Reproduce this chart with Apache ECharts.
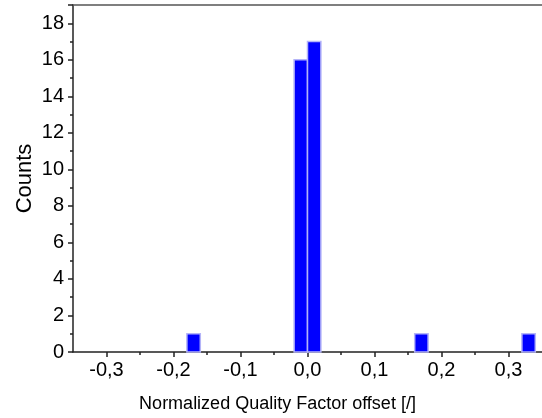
<!DOCTYPE html>
<html>
<head>
<meta charset="utf-8">
<script src="https://cdn.jsdelivr.net/npm/echarts@6/dist/echarts.min.js"></script>
<style>
html, body { margin: 0; padding: 0; background: #fff; }
#main { width: 542px; height: 418px; }
</style>
</head>
<body>
<div id="main"></div>
<script>
// histogram bins (left edge) and counts
var binStart = [-0.18, -0.02, 0.00, 0.16, 0.32];
var binWidth = 0.02;
var counts = [1, 16, 17, 1, 1];
var xMajor = [-0.3, -0.2, -0.1, 0.0, 0.1, 0.2, 0.3];
var xMinor = [-0.25, -0.15, -0.05, 0.05, 0.15, 0.25];

var data = binStart.map(function (s, i) {
    return [s, s + binWidth, counts[i]];
});

var chart = echarts.init(document.getElementById('main'));
var font = 'Liberation Sans, Arial, sans-serif';
var axisCol = '#222';

var option = {
    animation: false,
    grid: { left: 73, right: 0, top: 5, bottom: 63 },
    xAxis: [{
        type: 'value', min: -0.35, max: 0.35, position: 'bottom',
        name: 'Normalized Quality Factor offset [/]',
        nameLocation: 'middle', nameGap: 43, nameMoveOverlap: false,
        nameTextStyle: { fontFamily: font, fontSize: 18, color: '#000', padding: [0, 60, 0, 0] },
        axisLine: { onZero: false, lineStyle: { color: axisCol, width: 1.5 } },
        axisTick: { inside: false, length: 5, customValues: xMajor, lineStyle: { color: axisCol, width: 1.5 } },
        axisLabel: {
            customValues: xMajor, margin: 8,
            fontFamily: font, fontSize: 20, color: '#000',
            formatter: function (v) { return v.toFixed(1).replace('.', ','); }
        },
        splitLine: { show: false }
    }, {
        type: 'value', min: -0.35, max: 0.35, position: 'bottom',
        axisLine: { show: false, onZero: false },
        axisTick: { length: 3, customValues: xMinor, lineStyle: { color: axisCol, width: 1.5 } },
        axisLabel: { show: false },
        splitLine: { show: false }
    }, {
        type: 'value', min: -0.35, max: 0.35, position: 'top',
        axisLine: { onZero: false, lineStyle: { color: '#555', width: 1.5 } },
        axisTick: { show: false }, axisLabel: { show: false },
        splitLine: { show: false }
    }],
    yAxis: {
        type: 'value', min: 0, max: 19, interval: 2,
        name: 'Counts', nameLocation: 'middle', nameGap: 37, nameMoveOverlap: false,
        nameTextStyle: { fontFamily: font, fontSize: 22, color: '#000' },
        axisLine: { show: true, onZero: false, lineStyle: { color: axisCol, width: 1.5 } },
        axisTick: { show: true, length: 5, lineStyle: { color: axisCol, width: 1.5 } },
        minorTick: { show: true, splitNumber: 2, length: 3, lineStyle: { color: axisCol, width: 1.5 } },
        axisLabel: { fontFamily: font, fontSize: 20, color: '#000', margin: 9, showMaxLabel: false },
        splitLine: { show: false }
    },
    series: [{
        type: 'custom',
        xAxisIndex: 0,
        data: data,
        renderItem: function (params, api) {
            var p0 = api.coord([api.value(0), api.value(2)]);
            var p1 = api.coord([api.value(1), 0]);
            return {
                type: 'rect',
                shape: { x: p0[0], y: p0[1], width: p1[0] - p0[0], height: p1[1] - p0[1] },
                style: { fill: '#0000ff', stroke: '#b4b4f8', lineWidth: 1.5 }
            };
        }
    }]
};
chart.setOption(option);
</script>
</body>
</html>
